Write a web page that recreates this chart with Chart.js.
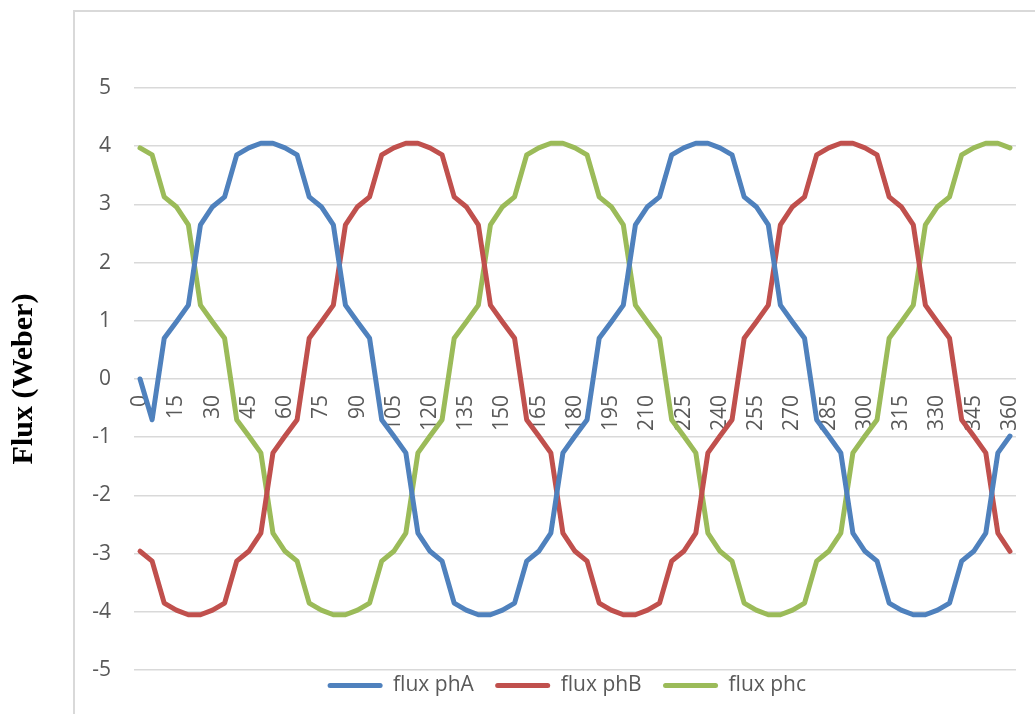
<!DOCTYPE html>
<html>
<head>
<meta charset="utf-8">
<script src="https://cdn.jsdelivr.net/npm/chart.js@4/dist/chart.umd.min.js"></script>
<style>
  html, body { margin: 0; padding: 0; background: #ffffff; }
  #wrap { width: 1035px; height: 714px; }
</style>
</head>
<body>
<div id="wrap"><canvas id="fluxChart" width="1035" height="714"></canvas></div>
<script>
// Rotor angle (degrees) for every sample
const angles = [0, 5, 10, 15, 20, 25, 30, 35, 40, 45, 50, 55, 60, 65, 70, 75, 80, 85, 90, 95,
  100, 105, 110, 115, 120, 125, 130, 135, 140, 145, 150, 155, 160, 165, 170, 175, 180, 185, 190, 195,
  200, 205, 210, 215, 220, 225, 230, 235, 240, 245, 250, 255, 260, 265, 270, 275, 280, 285, 290, 295,
  300, 305, 310, 315, 320, 325, 330, 335, 340, 345, 350, 355, 360];

// Angles that carry a visible tick label
const shownTicks = [0, 15, 30, 45, 60, 75, 90, 105, 120, 135, 150, 165, 180, 195, 210, 225, 240, 255, 270, 285, 300, 315, 330, 345, 360];

// Flux linkage per phase (Weber)
const fluxPhA = [0, -0.70,
  0.70, 0.98, 1.27, 2.65, 2.96, 3.13, 3.85, 3.97, 4.05, 4.05, 3.97, 3.85, 3.13, 2.96, 2.65, 1.27, 0.98, 0.70,
  -0.70, -0.98, -1.27, -2.65, -2.96, -3.13, -3.85, -3.97, -4.05, -4.05, -3.97, -3.85, -3.13, -2.96, -2.65, -1.27, -0.98, -0.70,
  0.70, 0.98, 1.27, 2.65, 2.96, 3.13, 3.85, 3.97, 4.05, 4.05, 3.97, 3.85, 3.13, 2.96, 2.65, 1.27, 0.98, 0.70,
  -0.70, -0.98, -1.27, -2.65, -2.96, -3.13, -3.85, -3.97, -4.05, -4.05, -3.97, -3.85, -3.13, -2.96, -2.65, -1.27, -0.98];

const fluxPhB = [-2.96, -3.13, -3.85, -3.97, -4.05, -4.05, -3.97, -3.85, -3.13, -2.96, -2.65, -1.27, -0.98, -0.70,
  0.70, 0.98, 1.27, 2.65, 2.96, 3.13, 3.85, 3.97, 4.05, 4.05, 3.97, 3.85, 3.13, 2.96, 2.65, 1.27, 0.98, 0.70,
  -0.70, -0.98, -1.27, -2.65, -2.96, -3.13, -3.85, -3.97, -4.05, -4.05, -3.97, -3.85, -3.13, -2.96, -2.65, -1.27, -0.98, -0.70,
  0.70, 0.98, 1.27, 2.65, 2.96, 3.13, 3.85, 3.97, 4.05, 4.05, 3.97, 3.85, 3.13, 2.96, 2.65, 1.27, 0.98, 0.70,
  -0.70, -0.98, -1.27, -2.65, -2.96];

const fluxPhC = [3.97, 3.85, 3.13, 2.96, 2.65, 1.27, 0.98, 0.70,
  -0.70, -0.98, -1.27, -2.65, -2.96, -3.13, -3.85, -3.97, -4.05, -4.05, -3.97, -3.85, -3.13, -2.96, -2.65, -1.27, -0.98, -0.70,
  0.70, 0.98, 1.27, 2.65, 2.96, 3.13, 3.85, 3.97, 4.05, 4.05, 3.97, 3.85, 3.13, 2.96, 2.65, 1.27, 0.98, 0.70,
  -0.70, -0.98, -1.27, -2.65, -2.96, -3.13, -3.85, -3.97, -4.05, -4.05, -3.97, -3.85, -3.13, -2.96, -2.65, -1.27, -0.98, -0.70,
  0.70, 0.98, 1.27, 2.65, 2.96, 3.13, 3.85, 3.97, 4.05, 4.05, 3.97];

const seriesNames = ['flux phA', 'flux phB', 'flux phc'];
const seriesColors = ['#4f81bd', '#c0504d', '#9bbb59'];
const seriesData = [fluxPhA, fluxPhB, fluxPhC];

const textColor = '#595959';
const gridColor = '#d9d9d9';

// White page plus the light outer chart frame
const framePlugin = {
  id: 'frame',
  beforeDraw(chart) {
    const ctx = chart.ctx;
    ctx.save();
    ctx.fillStyle = '#ffffff';
    ctx.fillRect(0, 0, chart.width, chart.height);
    ctx.strokeStyle = gridColor;
    ctx.lineWidth = 2;
    ctx.beginPath();
    ctx.moveTo(74, chart.height);
    ctx.lineTo(74, 11);
    ctx.lineTo(chart.width, 11);
    ctx.stroke();
    ctx.restore();
  }
};

new Chart(document.getElementById('fluxChart'), {
  type: 'line',
  data: {
    labels: angles,
    datasets: seriesData.map((values, i) => ({
      label: seriesNames[i],
      data: values,
      borderColor: seriesColors[i],
      backgroundColor: seriesColors[i],
      borderWidth: 5,
      tension: 0,
      pointRadius: 0,
      borderJoinStyle: 'round',
      borderCapStyle: 'round',
      fill: false
    }))
  },
  options: {
    responsive: false,
    animation: false,
    devicePixelRatio: 1,
    layout: { padding: { left: 0, right: 19, top: 88, bottom: 8 } },
    scales: {
      x: {
        type: 'category',
        position: { y: 0 },
        offset: true,
        grid: { display: false, drawTicks: false },
        border: { display: false },
        ticks: {
          autoSkip: false,
          minRotation: 90,
          maxRotation: 90,
          padding: 16,
          color: textColor,
          font: { family: 'Open Sans', size: 21 },
          callback: (value, index) => shownTicks.includes(angles[index]) ? String(angles[index]) : ''
        },
        afterFit: (scale) => {
          scale.height = 0;
          scale.paddingLeft = 0;
          scale.paddingRight = 0;
        }
      },
      y: {
        min: -5,
        max: 5,
        ticks: {
          stepSize: 1,
          padding: 23,
          color: textColor,
          font: { family: 'Open Sans', size: 21 }
        },
        grid: { color: gridColor, lineWidth: 1.5, drawTicks: false },
        border: { display: false },
        title: {
          display: true,
          text: 'Flux (Weber)',
          color: '#000000',
          font: { family: 'Liberation Serif', size: 30, weight: 'bold' },
          padding: { top: 6, bottom: 0 }
        },
        afterFit: (scale) => {
          scale.width = 134;
          scale.paddingTop = 0;
          scale.paddingBottom = 0;
        }
      }
    },
    plugins: {
      legend: {
        position: 'bottom',
        fullSize: false,
        labels: {
          color: textColor,
          font: { family: 'Open Sans', size: 21 },
          boxWidth: 55,
          boxHeight: 5,
          padding: 5,
          generateLabels: (chart) => Chart.defaults.plugins.legend.labels.generateLabels(chart).map((item) => ({
            ...item,
            text: item.text + '   ',
            fillStyle: item.strokeStyle,
            lineWidth: 0,
            borderRadius: 2.5
          }))
        }
      },
      tooltip: { enabled: false }
    }
  },
  plugins: [framePlugin]
});
</script>
</body>
</html>
